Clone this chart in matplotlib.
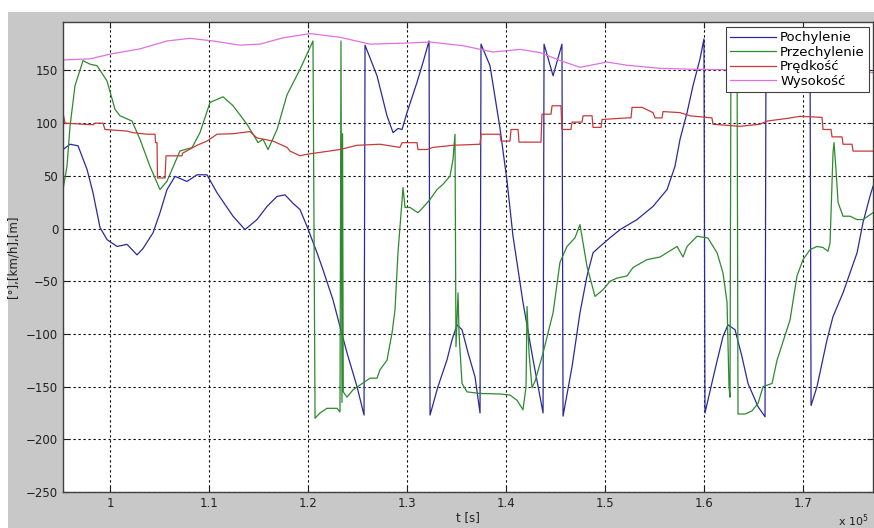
import matplotlib
matplotlib.use("Agg")
import matplotlib.pyplot as plt
from matplotlib.patches import Rectangle

# czas w jednostkach 10^5 s
t_poch = [0.9525, 0.9596, 0.9677, 0.9768, 0.9828, 0.9899, 0.9970, 1.0071, 1.0172, 1.0273, 1.0333,
          1.0435, 1.0505, 1.0576, 1.0657, 1.0778, 1.0879, 1.0980, 1.1081, 1.1243, 1.1364, 1.1485,
          1.1587, 1.1688, 1.1768, 1.1849, 1.1920, 1.1991, 1.2092, 1.2152, 1.2253, 1.2324, 1.2395,
          1.2496, 1.2567, 1.2577, 1.2698, 1.2799, 1.2860, 1.2910, 1.2951, 1.3001, 1.3102, 1.3163,
          1.3224, 1.3234, 1.3314, 1.3405, 1.3456, 1.3506, 1.3557, 1.3618, 1.3688, 1.3739, 1.3749,
          1.3840, 1.3941, 1.4012, 1.4072, 1.4173, 1.4274, 1.4376, 1.4386, 1.4477, 1.4567, 1.4578,
          1.4669, 1.4749, 1.4820, 1.4881, 1.4951, 1.5053, 1.5154, 1.5325, 1.5487, 1.5629, 1.5709,
          1.5760, 1.5831, 1.5891, 1.5962, 1.6002, 1.6012, 1.6113, 1.6194, 1.6245, 1.6316, 1.6386,
          1.6447, 1.6548, 1.6619, 1.6629, 1.6872, 1.7074, 1.7084, 1.7144, 1.7245, 1.7306, 1.7407,
          1.7478, 1.7549, 1.7609, 1.7680, 1.7710]
pochylenie = [75, 80, 78.5, 56, 34, 1, -10.5, -17, -15, -25, -19,
              -4, 15, 37, 49.5, 44.7, 51, 51, 34, 11.7, -1, 8.5,
              21, 30.5, 32, 24, 18, 2, -23, -39, -67.6, -93, -118,
              -150, -177, 174, 145, 107, 91, 95, 94, 110, 138.7, 157.7,
              178, -177, -150, -124.7, -105.7, -91.4, -96, -118, -140.6, -175, 175,
              154.5, 95, 45, -7, -70, -124, -175, 175, 145, 175, -178,
              -131, -80, -45, -23, -17, -8.7, -1, 8.5, 21, 37, 59,
              84.7, 110, 135.5, 161, 180, -175, -134, -102.5, -91.4, -96, -121.6,
              -147, -169, -178.6, 178, 165, 160, -168, -150, -105.7, -83.5, -61,
              -42, -23, 5.7, 30.8, 40]

t_przech = [0.9525, 0.9565, 0.9596, 0.9646, 0.9727, 0.9798, 0.9869, 0.9970, 1.0051, 1.0101, 1.0222,
            1.0303, 1.0404, 1.0505, 1.0576, 1.0707, 1.0829, 1.0909, 1.1011, 1.1142, 1.1243, 1.1384,
            1.1496, 1.1546, 1.1597, 1.1688, 1.1789, 1.1920, 1.2051, 1.2072, 1.2122, 1.2193, 1.2294,
            1.2324, 1.2334, 1.2344, 1.2350, 1.2357, 1.2395, 1.2456, 1.2627, 1.2698, 1.2728, 1.2799,
            1.2850, 1.2880, 1.2910, 1.2961, 1.2981, 1.3032, 1.3112, 1.3163, 1.3234, 1.3304, 1.3365,
            1.3436, 1.3466, 1.3486, 1.3496, 1.3517, 1.3527, 1.3557, 1.3608, 1.3739, 1.3941, 1.4042,
            1.4113, 1.4173, 1.4204, 1.4214, 1.4234, 1.4264, 1.4295, 1.4376, 1.4477, 1.4547, 1.4618,
            1.4699, 1.4749, 1.4820, 1.4901, 1.4982, 1.5053, 1.5123, 1.5224, 1.5285, 1.5426, 1.5558,
            1.5730, 1.5790, 1.5831, 1.5932, 1.6042, 1.6134, 1.6194, 1.6235, 1.6255, 1.6265, 1.6275,
            1.6336, 1.6346, 1.6417, 1.6487, 1.6548, 1.6599, 1.6690, 1.6740, 1.6872, 1.6942, 1.7003,
            1.7074, 1.7144, 1.7205, 1.7255, 1.7276, 1.7306, 1.7316, 1.7336, 1.7357, 1.7407, 1.7478,
            1.7549, 1.7609, 1.7710]
przechylenie = [37, 59, 97, 135.5, 159.3, 156, 154.5, 140, 113, 107, 102,
                84.7, 59, 37, 45, 73.6, 76.8, 91, 119.7, 125, 116.6, 99,
                81.6, 84.7, 75, 94, 127, 151, 178, -180, -175, -170.6, -170.6,
                -174, 178, -165, 90, -155, -160, -153, -142, -142, -134, -125,
                -99, -77, -23, 39, 20, 20, 15, 20, 27.6, 37, 42,
                49.8, 65.7, 89.5, -112, -61, -100, -147, -155, -156.5, -157, -158,
                -163, -172, -150, -74, -118, -151, -145, -118, -80, -32, -17,
                -8.7, 3.8, -36, -64.4, -58, -50, -47, -45, -37, -29.5, -27,
                -17, -27, -17, -7.3, -9, -23, -42, -70, -150, -160, 178,
                175, -176, -176, -173, -166, -150, -147, -125, -86.6, -45, -29.5,
                -20, -17, -18, -21.6, -13.6, 72, 81.6, 56, 24.8, 11.7, 11.7,
                8.5, 8.5, 15]

t_pred = [0.9525, 0.9545, 0.9828, 0.9848, 0.9929, 0.9949, 1.0172, 1.0232, 1.0374, 1.0455, 1.0460,
          1.0475, 1.0480, 1.0556, 1.0566, 1.0728, 1.0733, 1.0879, 1.0980, 1.1081, 1.1243, 1.1415,
          1.1485, 1.1647, 1.1789, 1.1819, 1.1920, 1.1991, 1.2324, 1.2496, 1.2728, 1.2930, 1.2951,
          1.3102, 1.3112, 1.3203, 1.3264, 1.3466, 1.3739, 1.3749, 1.3941, 1.3951, 1.4042, 1.4052,
          1.4123, 1.4133, 1.4355, 1.4365, 1.4456, 1.4467, 1.4557, 1.4567, 1.4658, 1.4669, 1.4770,
          1.4780, 1.4871, 1.4881, 1.4962, 1.4972, 1.5224, 1.5265, 1.5275, 1.5376, 1.5487, 1.5507,
          1.5578, 1.5588, 1.5760, 1.5861, 1.6083, 1.6093, 1.6366, 1.6568, 1.6639, 1.6841, 1.6973,
          1.7195, 1.7205, 1.7286, 1.7296, 1.7397, 1.7407, 1.7498, 1.7508, 1.7710]
predkosc = [110, 100, 98.5, 100, 100, 94, 92.5, 91, 89.5, 89.5, 81.5,
            81.5, 48, 48, 69, 69, 71.5, 79, 83, 89.5, 90, 92,
            86, 83, 77, 73.5, 69, 70.5, 75, 79, 80, 77, 81.5,
            81.5, 75, 75, 77, 79, 80, 89.5, 89.5, 83, 83, 94,
            94, 82, 82, 108.5, 108.5, 116.5, 116.5, 94, 94, 101, 101,
            107, 107, 96, 96, 103.5, 105, 105, 115, 115, 110, 105,
            105, 111, 110, 107, 105, 99, 97, 99, 102, 104.5, 106.5,
            105.5, 94, 94, 87, 87, 80, 80, 73.5, 73.5]

t_wys = [0.9525, 0.9798, 1.0, 1.0303, 1.0576, 1.0808, 1.1041, 1.1314, 1.1516, 1.1748, 1.2021,
         1.2324, 1.2627, 1.3001, 1.3234, 1.3567, 1.3870, 1.4143, 1.4345, 1.4547, 1.4749, 1.5022,
         1.5224, 1.5558, 1.5962, 1.6467, 1.6973, 1.7710]
wysokosc = [160, 161, 165.5, 170.5, 178, 180.5, 178, 174, 175, 181, 185,
            181.5, 175, 176, 177, 173.5, 167.5, 170, 167, 159.5, 153, 158,
            155, 152, 151, 150.5, 150, 148]

labels = ["Pochylenie", "Przechylenie", "Prędkość", "Wysokość"]
colors = ["#2a2a9c", "#2e8a2e", "#c83a3a", "#e070e0"]
x_ticks = [1.0, 1.1, 1.2, 1.3, 1.4, 1.5, 1.6, 1.7]
x_ticklabels = ["1", "1.1", "1.2", "1.3", "1.4", "1.5", "1.6", "1.7"]
y_ticks = [-250, -200, -150, -100, -50, 0, 50, 100, 150]

W, H = 874, 528
fig = plt.figure(figsize=(W / 100, H / 100), dpi=100, facecolor="white")
# szare tlo okna (bez bialego paska u gory i z lewej)
fig.patches.append(Rectangle((8 / W, 0), 1 - 8 / W, (H - 12) / H, transform=fig.transFigure,
                             facecolor="#c8c8c8", edgecolor="none", zorder=-10))

ax = fig.add_axes([63 / W, (H - 492) / H, 810 / W, 470 / H])
ax.set_zorder(5)
ax.set_facecolor("white")

series = [(t_poch, pochylenie), (t_przech, przechylenie), (t_pred, predkosc), (t_wys, wysokosc)]
for (t, v), lab, c in zip(series, labels, colors):
    ax.plot(t, v, color=c, lw=0.9, label=lab)

ax.set_xlim(0.9525, 1.771)
ax.set_ylim(-250, 196)
ax.set_xticks(x_ticks)
ax.set_xticklabels(x_ticklabels)
ax.set_yticks(y_ticks)
ax.grid(True, color="black", linestyle=(0, (2, 2.5)), linewidth=0.8)
ax.tick_params(direction="in", length=4, labelsize=8.5, colors="#202020", top=True, right=True)
for s in ax.spines.values():
    s.set_color("#404040")
    s.set_linewidth(1.0)

ax.set_ylabel("[°],[km/h],[m]", fontsize=8.5, color="#202020", labelpad=5)
ax.set_xlabel("t [s]", fontsize=8.5, color="#202020", labelpad=1)
fig.text(838 / W, 1 - 521 / H, r"x 10$^5$", fontsize=8, color="#202020", va="center")

leg = ax.legend(loc="upper right", bbox_to_anchor=(0.995, 0.989), borderaxespad=0,
                fancybox=False, fontsize=9.5, handlelength=3.5, labelspacing=0.12,
                borderpad=0.3, handletextpad=0.3, framealpha=1)
leg.get_frame().set_edgecolor("#404040")
leg.get_frame().set_linewidth(0.8)

fig.savefig("out.png", dpi=100, facecolor=fig.get_facecolor())
